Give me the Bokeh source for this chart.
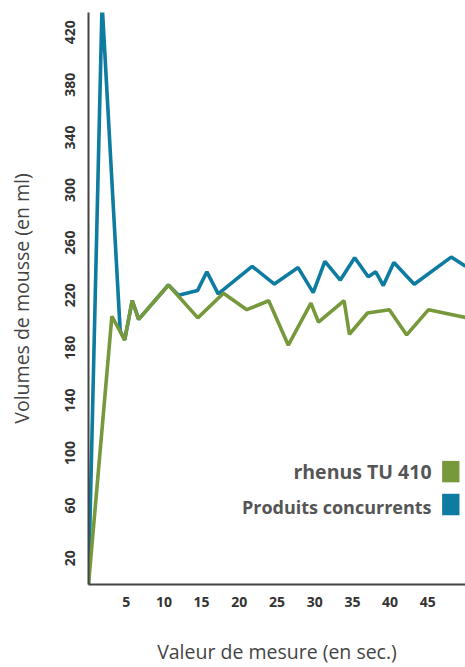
from bokeh.plotting import figure
from bokeh.models import FixedTicker, Label, BoxAnnotation, Range1d
from bokeh.embed import file_html
from bokeh.resources import INLINE

# Data (seconds, ml)
rhenus_x = [0, 3.1, 4.8, 5.8, 6.65, 10.6, 14.5, 17.9, 21.0, 23.9, 26.5, 29.5, 30.5, 33.9, 34.6, 37.0, 39.9, 42.2, 45.1, 50.0]
rhenus_y = [0, 204, 186, 216, 201.6, 227.8, 202.8, 221.5, 209, 215.8, 182, 214, 199.5, 215.8, 190.3, 206.5, 209, 189.8, 209, 203]

conc_x = [0, 1.8, 4.2, 4.8, 5.8, 6.65, 10.6, 11.95, 14.46, 15.7, 17.2, 21.7, 24.65, 27.8, 29.8, 31.35, 33.4, 35.3, 37.1, 38.1, 39.1, 40.5, 43.2, 48.1, 50.0]
conc_y = [0, 442, 193, 186, 216, 201.6, 227.8, 220, 223.5, 237.8, 221, 242, 228.5, 241, 222, 245.8, 231.5, 248.5, 234, 237.8, 227.3, 244.8, 228.3, 249, 242]

x_ticks = [5, 10, 15, 20, 25, 30, 35, 40, 45]
y_ticks = [20, 60, 100, 140, 180, 220, 260, 300, 340, 380, 420]

series_names = ["rhenus TU 410", "Produits concurrents"]
GREEN = "#77993b"
BLUE = "#0e7ba1"
FONT = "Open Sans"

p = figure(width=465, height=667, output_backend="svg", toolbar_location=None,
           x_range=Range1d(0, 50), y_range=Range1d(0, 435),
           min_border_left=88, min_border_right=0, min_border_top=12, min_border_bottom=75)
p.outline_line_color = None
p.xgrid.visible = False
p.ygrid.visible = False
p.background_fill_color = "white"

p.line(conc_x, conc_y, line_color=BLUE, line_width=3.6)
p.line(rhenus_x, rhenus_y, line_color=GREEN, line_width=3.6)

for ax in (p.xaxis[0], p.yaxis[0]):
    ax.axis_line_color = "#444444"
    ax.axis_line_width = 2
    ax.major_tick_line_color = None
    ax.minor_tick_line_color = None
    ax.major_tick_out = 0
    ax.major_tick_in = 0
    ax.major_label_text_font = FONT
    ax.major_label_text_font_style = "bold"
    ax.major_label_text_font_size = "14px"
    ax.major_label_text_color = "#333333"
    ax.axis_label_text_font = FONT
    ax.axis_label_text_font_style = "normal"
    ax.axis_label_text_font_size = "19.5px"
    ax.axis_label_text_color = "#444444"

p.xaxis.ticker = FixedTicker(ticks=x_ticks)
p.yaxis.ticker = FixedTicker(ticks=y_ticks)
p.yaxis.major_label_orientation = "vertical"
p.xaxis.major_label_standoff = 12
p.yaxis.major_label_standoff = 13
p.xaxis.axis_label = "Valeur de mesure (en sec.)"
p.yaxis.axis_label = "Volumes de mousse (en ml)"
p.xaxis.axis_label_standoff = 28
p.yaxis.axis_label_standoff = 28

# Legend (text left of colour square)
for name, col, ty, b0, b1, fs in [(series_names[0], GREEN, 86.3, 77.7, 94.0, "19.5px"),
                                  (series_names[1], BLUE, 59.3, 52.7, 69.0, "18px")]:
    p.add_layout(Label(x=45.5, y=ty, text=name, text_align="right", text_baseline="middle",
                       text_font=FONT, text_font_style="bold", text_font_size=fs,
                       text_color="#555555"))
    p.add_layout(BoxAnnotation(left=46.9, right=49.2, bottom=b0, top=b1,
                               fill_color=col, fill_alpha=1.0, line_color=None))

open("out.html", "w").write(file_html(p, INLINE))
